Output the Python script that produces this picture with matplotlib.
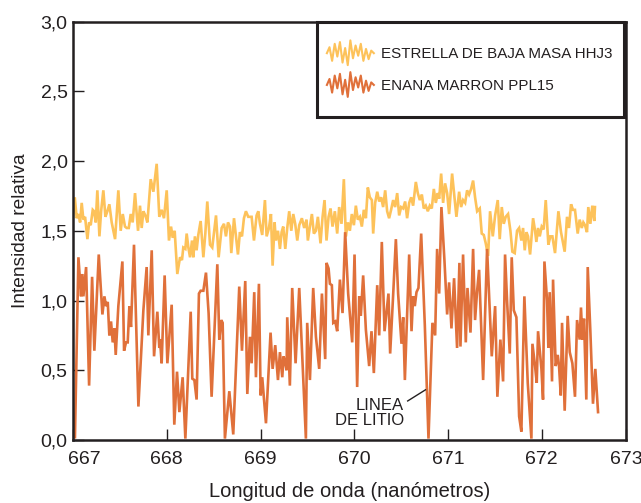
import numpy as np
import matplotlib
matplotlib.use("Agg")
import matplotlib.pyplot as plt
from matplotlib.legend_handler import HandlerBase
from matplotlib.lines import Line2D
from matplotlib.patches import Rectangle
import matplotlib.transforms as mtransforms

plt.rcParams['font.family'] = ['Liberation Sans', 'DejaVu Sans']

# --- data (wavelength in nm, relative intensity) ---
estrella_x = [
    667.000, 667.018, 667.039, 667.057, 667.075, 667.092, 667.110, 667.128, 667.153, 667.171,
    667.188, 667.210, 667.224, 667.242, 667.259, 667.281, 667.299, 667.323, 667.345, 667.366,
    667.387, 667.412, 667.448, 667.483, 667.508, 667.530, 667.554, 667.572, 667.594, 667.615,
    667.636, 667.661, 667.693, 667.714, 667.732, 667.750, 667.771, 667.793, 667.828, 667.857,
    667.892, 667.920,
    667.945, 667.970, 667.999, 668.023, 668.045, 668.063, 668.084, 668.112, 668.141, 668.162,
    668.176, 668.198, 668.212, 668.230, 668.248, 668.269, 668.283, 668.300, 668.318, 668.336,
    668.361, 668.390, 668.411, 668.432, 668.461, 668.485, 668.525, 668.553, 668.585, 668.610,
    668.631, 668.653, 668.674, 668.688, 668.717, 668.738, 668.759, 668.780, 668.802, 668.823,
    668.844, 668.869,
    668.905, 668.930, 668.958, 668.976, 668.994, 669.018, 669.047, 669.065, 669.090, 669.111,
    669.129, 669.150, 669.164, 669.186, 669.207, 669.225, 669.242, 669.264, 669.285, 669.306,
    669.328, 669.349, 669.370, 669.392, 669.413, 669.441, 669.466, 669.491, 669.505, 669.527,
    669.548, 669.569, 669.591, 669.612, 669.640, 669.662, 669.683, 669.704, 669.726, 669.747,
    669.768, 669.793, 669.818, 669.839,
    669.864, 669.889, 669.910, 669.932, 669.953, 669.974, 669.996, 670.017, 670.038, 670.060,
    670.081, 670.102, 670.124, 670.145, 670.166, 670.188, 670.202, 670.223, 670.245, 670.266,
    670.287, 670.308, 670.330, 670.351, 670.372, 670.393, 670.415, 670.436, 670.458, 670.479,
    670.500, 670.522, 670.543, 670.564, 670.586, 670.607, 670.628, 670.657, 670.678, 670.699,
    670.721, 670.742, 670.763, 670.785,
    670.806, 670.827, 670.849, 670.870, 670.891, 670.906, 670.927, 670.948, 670.969, 670.991,
    671.012, 671.044, 671.069, 671.090, 671.119, 671.140, 671.161, 671.183, 671.204, 671.225,
    671.247, 671.268, 671.289, 671.311, 671.339, 671.360, 671.382, 671.403, 671.428, 671.449,
    671.478, 671.503, 671.531, 671.552, 671.574, 671.595, 671.616, 671.641, 671.666, 671.687,
    671.712, 671.737, 671.759,
    671.783, 671.801, 671.819, 671.837, 671.854, 671.876, 671.908, 671.929, 671.943, 671.961,
    671.979, 672.000, 672.021, 672.043, 672.071, 672.092, 672.114, 672.142, 672.178, 672.206,
    672.245, 672.270, 672.291, 672.313, 672.334, 672.355, 672.384, 672.405, 672.427, 672.444,
    672.462, 672.483, 672.497, 672.519, 672.540, 672.561, 672.568,
]
estrella_y = [
    1.60, 1.74, 1.59, 1.62, 1.56, 1.70, 1.58, 1.60, 1.44, 1.56,
    1.54, 1.65, 1.64, 1.56, 1.79, 1.46, 1.64, 1.79, 1.60, 1.64,
    1.69, 1.56, 1.44, 1.79, 1.50, 1.62, 1.53, 1.52, 1.52, 1.62,
    1.56, 1.77, 1.50, 1.68, 1.52, 1.64, 1.61, 1.56, 1.87, 1.78,
    1.98, 1.60,
    1.65, 1.59, 1.79, 1.43, 1.53, 1.45, 1.50, 1.19, 1.31, 1.29,
    1.38, 1.37, 1.48, 1.38, 1.31, 1.43, 1.31, 1.46, 1.36, 1.47,
    1.57, 1.31, 1.48, 1.71, 1.40, 1.38, 1.61, 1.31, 1.52, 1.55,
    1.46, 1.56, 1.53, 1.34, 1.59, 1.46, 1.33, 1.49, 1.46, 1.59,
    1.64, 1.60,
    1.60, 1.43, 1.61, 1.64, 1.55, 1.47, 1.72, 1.46, 1.52, 1.62,
    1.25, 1.56, 1.43, 1.50, 1.37, 1.49, 1.53, 1.37, 1.52, 1.64,
    1.50, 1.62, 1.55, 1.43, 1.54, 1.59, 1.52, 1.58, 1.43, 1.53,
    1.62, 1.48, 1.50, 1.60, 1.41, 1.60, 1.72, 1.43, 1.60, 1.66,
    1.53, 1.64, 1.48, 1.67,
    1.55, 1.87, 1.46, 1.56, 1.50, 1.62, 1.54, 1.68, 1.58, 1.60,
    1.53, 1.65, 1.59, 1.81, 1.74, 1.72, 1.48, 1.70, 1.78, 1.71,
    1.74, 1.67, 1.79, 1.64, 1.59, 1.65, 1.72, 1.67, 1.77, 1.61,
    1.67, 1.66, 1.71, 1.59, 1.70, 1.74, 1.68, 1.85, 1.77, 1.72,
    1.76, 1.66, 1.68, 1.64,
    1.68, 1.66, 1.80, 1.70, 1.77, 1.73, 1.91, 1.70, 1.84, 1.77,
    1.62, 1.91, 1.74, 1.60, 1.78, 1.67, 1.72, 1.70, 1.79, 1.76,
    1.80, 1.86, 1.74, 1.64, 1.66, 1.48, 1.47, 1.41, 1.32, 1.64,
    1.46, 1.61, 1.72, 1.44, 1.67, 1.55, 1.60, 1.62, 1.50, 1.35,
    1.34, 1.50, 1.52,
    1.43, 1.52, 1.36, 1.49, 1.46, 1.33, 1.59, 1.50, 1.42, 1.52,
    1.46, 1.53, 1.51, 1.72, 1.40, 1.46, 1.46, 1.34, 1.64, 1.49,
    1.35, 1.60, 1.52, 1.69, 1.65, 1.65, 1.48, 1.58, 1.52, 1.56,
    1.54, 1.49, 1.67, 1.55, 1.68, 1.57, 1.67,
]

enana_x = [
    667.020, 667.057, 667.085, 667.096, 667.110, 667.139, 667.171, 667.203, 667.227, 667.274,
    667.313, 667.334, 667.352, 667.370, 667.387, 667.405, 667.423, 667.441, 667.455, 667.483,
    667.526, 667.544, 667.565, 667.583, 667.601, 667.618, 667.650, 667.697, 667.750, 667.785,
    667.803, 667.839, 667.864, 667.899, 667.920,
    667.928, 667.945, 667.977, 668.006, 668.052, 668.080, 668.109, 668.134, 668.169, 668.198,
    668.255, 668.272, 668.294, 668.318, 668.343, 668.361, 668.390, 668.418, 668.446, 668.478,
    668.539, 668.560, 668.581, 668.596, 668.620, 668.667, 668.709, 668.773, 668.802, 668.837,
    668.859,
    668.887, 668.905, 668.933, 668.951, 668.983, 669.001, 669.018, 669.058, 669.107, 669.129,
    669.157, 669.186, 669.207, 669.232, 669.246, 669.264, 669.278, 669.285, 669.313, 669.338,
    669.374, 669.413, 669.484, 669.498, 669.527, 669.562, 669.591, 669.626, 669.655, 669.690,
    669.704, 669.726, 669.740, 669.761, 669.776, 669.797, 669.818,
    669.847, 669.875, 669.903, 669.935, 669.978, 670.003, 670.031, 670.053, 670.070, 670.095,
    670.124, 670.159, 670.184, 670.209, 670.245, 670.266, 670.294, 670.323, 670.365, 670.383,
    670.415, 670.444, 670.468, 670.504, 670.522, 670.540, 670.586, 670.611, 670.628, 670.646,
    670.664, 670.685, 670.714, 670.753, 670.792,
    670.834, 670.863, 670.884, 670.906, 670.930, 670.962, 670.991, 671.012, 671.037, 671.065,
    671.097, 671.122, 671.133, 671.161, 671.190, 671.208, 671.240, 671.268, 671.289, 671.311,
    671.332, 671.375, 671.417, 671.467, 671.503, 671.527, 671.559, 671.588, 671.609, 671.631,
    671.659, 671.680, 671.702, 671.730, 671.759,
    671.783, 671.815, 671.851, 671.890, 671.901, 671.929, 671.947, 671.961, 671.997, 672.014,
    672.029, 672.057, 672.071, 672.085, 672.110, 672.121, 672.149, 672.171, 672.185, 672.203,
    672.217, 672.245, 672.277, 672.299, 672.327, 672.355, 672.377, 672.405, 672.419, 672.434,
    672.451, 672.476, 672.491, 672.519, 672.547, 672.572, 672.601,
]
enana_y = [
    0.02, 1.31, 1.03, 1.19, 1.03, 1.24, 0.39, 1.17, 0.64, 1.33,
    0.90, 1.03, 0.96, 0.99, 0.75, 0.85, 0.70, 0.80, 0.61, 0.96,
    1.28, 0.64, 0.70, 0.70, 0.96, 0.81, 1.40, 0.24, 0.93, 1.24,
    0.75, 1.36, 0.60, 0.92, 0.66,
    0.72, 0.55, 1.18, 0.55, 0.97, 0.11, 0.49, 0.20, 0.45, 0.01,
    0.92, 0.44, 0.43, 0.29, 1.05, 1.07, 1.07, 1.20, 0.91, 0.31,
    1.26, 0.72, 0.86, 0.84, 0.01, 0.35, 0.04, 1.10, 0.64, 1.14,
    0.33,
    0.74, 0.55, 1.06, 0.45, 1.12, 0.32, 0.45, 0.12, 0.77, 0.51,
    0.68, 0.43, 0.63, 0.45, 0.60, 0.55, 0.50, 0.88, 0.39, 1.09,
    0.55, 1.09, 0.01, 0.84, 0.43, 1.09, 0.74, 0.51, 1.05, 0.58,
    1.27, 1.23, 1.12, 1.11, 0.84, 0.85, 0.78,
    1.15, 0.91, 1.49, 1.05, 0.70, 1.33, 0.38, 1.03, 0.89, 1.18,
    0.79, 0.53, 0.78, 0.48, 1.11, 0.75, 1.42, 0.78, 1.05, 0.62,
    1.04, 1.44, 1.05, 0.69, 0.88, 0.43, 1.33, 0.78, 1.03, 0.96,
    1.06, 1.09, 1.48, 0.82, 0.01,
    0.84, 0.75, 1.37, 1.05, 1.67, 1.29, 0.90, 1.13, 0.80, 1.16,
    0.66, 1.27, 0.67, 1.33, 0.70, 1.09, 0.77, 1.37, 0.86, 1.07,
    1.22, 0.43, 1.37, 0.60, 0.96, 0.31, 0.72, 0.42, 1.33, 0.99,
    0.62, 1.31, 0.93, 0.88, 0.17,
    0.06, 1.03, 0.41, 0.01, 0.69, 0.53, 0.41, 0.78, 0.51, 0.29,
    1.28, 1.00, 0.66, 1.06, 0.42, 1.15, 0.53, 0.61, 0.53, 0.32,
    0.84, 0.21, 0.89, 0.63, 0.55, 0.31, 0.86, 0.72, 0.95, 0.72,
    0.87, 0.29, 1.24, 0.78, 0.26, 0.51, 0.20,
]

series_labels = ['ESTRELLA DE BAJA MASA HHJ3', 'ENANA MARRON PPL15']
xtick_values = [667, 668, 669, 670, 671, 672, 672.9]
xtick_labels = ['667', '668', '669', '670', '671', '672', '673']
ytick_values = [0.0, 0.5, 1.0, 1.5, 2.0, 2.5, 3.0]
ytick_labels = ['0,0', '0,5', '1,0', '1,5', '2,0', '2,5', '3,0']

yellow = '#FDC25A'
orange = '#E0703A'
ink = '#231F20'


class ZigzagHandler(HandlerBase):
    # small jagged spectrum icon for the legend
    zig = [0.0, 0.35, -0.45, 0.55, -0.2, 0.65, -0.55, 0.3, -0.7, 0.75, -0.3,
           0.45, -0.15, 0.55, -0.45, 0.25, -0.35, 0.15, 0.0]

    def create_artists(self, legend, orig_handle, xdescent, ydescent,
                       width, height, fontsize, trans):
        xs = np.linspace(0, width, len(self.zig)) - xdescent
        ys = height / 2 - ydescent + np.array(self.zig) * height * 1.1
        line = Line2D(xs, ys, color=orig_handle.get_color(), lw=1.5)
        line.set_transform(trans)
        return [line]


fig = plt.figure(figsize=(6.41, 5.03), dpi=100)
ax = fig.add_axes([0.114, 0.1252, 0.8627, 0.832])

l1, = ax.plot(estrella_x, estrella_y, color=yellow, lw=1.9, solid_joinstyle='miter')
l2, = ax.plot(enana_x, enana_y, color=orange, lw=1.9, solid_joinstyle='miter')

ax.set_xlim(667, 672.9)
ax.set_ylim(0, 3.0)
ax.set_xticks(xtick_values)
ax.set_xticklabels(xtick_labels)
ax.set_yticks(ytick_values)
ax.set_yticklabels(ytick_labels)
ax.tick_params(direction='in', length=8, width=1.0, color=ink, labelcolor=ink,
               labelsize=14)
ax.tick_params(axis='x', pad=8)
ax.tick_params(axis='y', pad=4)
# first x label sits a bit to the right of the corner
lab0 = ax.get_xticklabels()[0]
lab0.set_transform(lab0.get_transform() +
                   mtransforms.ScaledTranslation(8 / 72, 0, fig.dpi_scale_trans))

for s in ax.spines.values():
    s.set_linewidth(1.8)
    s.set_color(ink)

ax.set_xlabel('Longitud de onda (nanómetros)', fontsize=14.5, color=ink, labelpad=10)
ax.set_ylabel('Intensidad relativa', fontsize=13.8, color=ink, labelpad=8)

# lithium line annotation
ax.text(670.53, 0.195, 'LINEA\nDE LITIO', ha='right', va='center', multialignment='right',
        fontsize=12, color=ink, linespacing=1.05)
ax.plot([670.57, 670.76], [0.28, 0.36], color=ink, lw=1.0)

# legend box
ax.add_patch(Rectangle((0.441, 0.772), 0.556, 0.226, transform=ax.transAxes,
                       facecolor='white', edgecolor=ink, lw=2.2, zorder=5, clip_on=False))
ax.legend([l1, l2], series_labels, handler_map={Line2D: ZigzagHandler()},
          loc='center left', bbox_to_anchor=(0.459, 0.886), frameon=False,
          fontsize=10.9, handlelength=3.1, handleheight=1.2, handletextpad=0.5,
          labelspacing=1.05, borderpad=0, borderaxespad=0).set_zorder(6)
for t in ax.get_legend().get_texts():
    t.set_color(ink)

fig.savefig('out.png', dpi=100)
